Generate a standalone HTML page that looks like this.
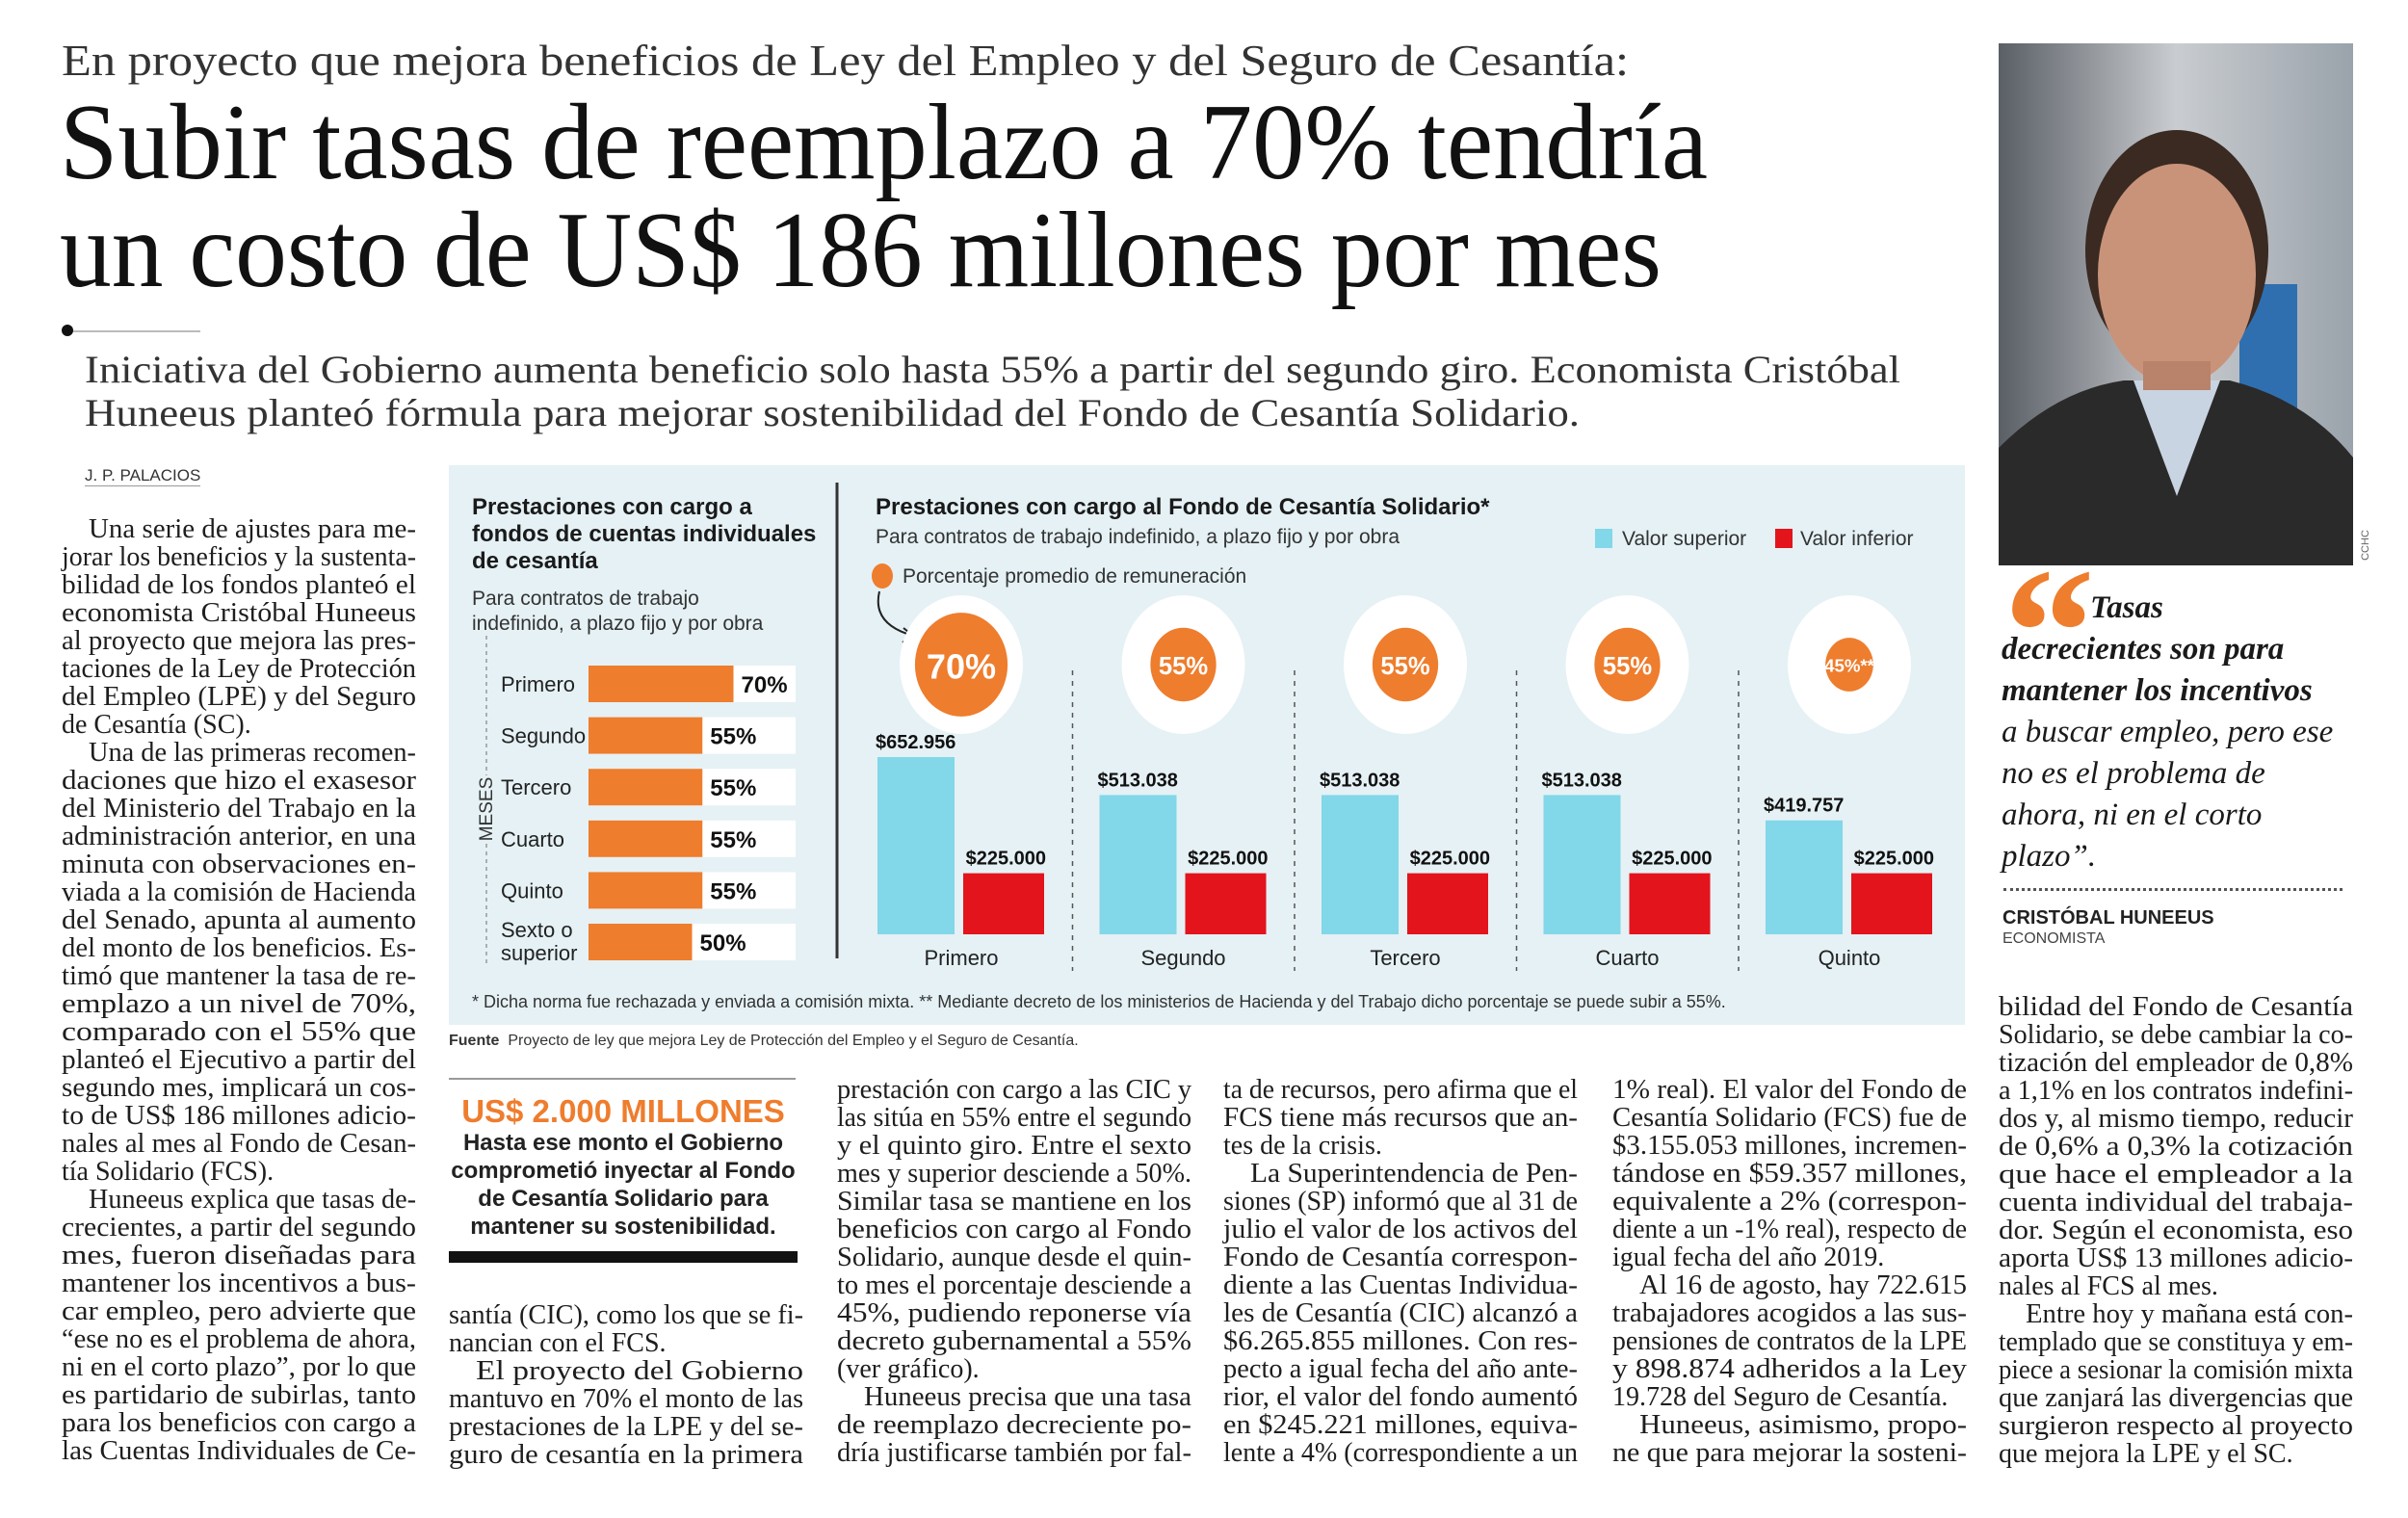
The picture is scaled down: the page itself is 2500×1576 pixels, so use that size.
<!DOCTYPE html>
<html><head><meta charset="utf-8">
<style>
html,body{margin:0;padding:0;background:#fff;}
body{width:2500px;height:1576px;position:relative;overflow:hidden;font-family:"Liberation Serif",serif;color:#1a1a1a;}
.abs{position:absolute;white-space:nowrap;}
.fit{display:inline-block;transform-origin:0 0;}
.col{position:absolute;width:368px;font-family:"Liberation Serif",serif;font-size:28px;line-height:29px;color:#1e1e1e;}
.col div{white-space:nowrap;height:29px;}
.col span{display:inline-block;transform-origin:0 0;}
.ind{padding-left:28px;}
.sans{font-family:"Liberation Sans",sans-serif;}
</style></head>
<body>
<div class="abs" style="left:64px;top:36px;font-size:46px;color:#333;"><span class="fit" data-w="1627">En proyecto que mejora beneficios de Ley del Empleo y del Seguro de Cesantía:</span></div>
<div class="abs" style="left:62px;top:88px;font-size:112px;line-height:120px;color:#111;"><span class="fit" data-w="1711">Subir tasas de reemplazo a 70% tendría</span></div>
<div class="abs" style="left:62px;top:200px;font-size:112px;line-height:120px;color:#111;"><span class="fit" data-w="1663">un costo de US$ 186 millones por mes</span></div>
<div style="position:absolute;left:66px;top:343px;width:142px;height:2px;background:#bbb;"></div>
<div style="position:absolute;left:64px;top:337px;width:12px;height:12px;border-radius:50%;background:#111;"></div>
<div class="abs" style="left:88px;top:360px;font-size:40px;color:#333;"><span class="fit" data-w="1885">Iniciativa del Gobierno aumenta beneficio solo hasta 55% a partir del segundo giro. Economista Cristóbal</span></div>
<div class="abs" style="left:88px;top:405px;font-size:40px;color:#333;"><span class="fit" data-w="1552">Huneeus planteó fórmula para mejorar sostenibilidad del Fondo de Cesantía Solidario.</span></div>
<div class="abs sans" style="left:88px;top:484px;font-size:17px;color:#333;border-bottom:1px solid #999;">J. P. PALACIOS</div>

<svg style="position:absolute;left:2075px;top:45px" width="368" height="542" viewBox="0 0 368 542">
<defs><linearGradient id="bg" x1="0" x2="1"><stop offset="0" stop-color="#5a5f66"/><stop offset="0.5" stop-color="#c9ccd0"/><stop offset="1" stop-color="#9aa3ab"/></linearGradient></defs>
<rect width="368" height="542" fill="url(#bg)"/>
<rect x="250" y="250" width="60" height="150" fill="#2f6fb0"/>
<path d="M0 542 L0 420 Q60 360 130 350 L240 350 Q320 370 368 430 L368 542Z" fill="#2a2a2a"/>
<path d="M140 350 L185 470 L230 350Z" fill="#c9d4e2"/>
<ellipse cx="185" cy="215" rx="95" ry="125" fill="#3a2a22"/>
<ellipse cx="185" cy="240" rx="82" ry="115" fill="#c9937a"/>
<rect x="150" y="330" width="70" height="30" fill="#b9826a"/>
</svg>
<div class="abs sans" style="left:2440px;top:560px;font-size:11px;color:#666;transform:rotate(-90deg);">CCHC</div>

<div style="position:absolute;left:466px;top:483px;width:1574px;height:581px;background:#e5f1f5;"></div>
<svg id="chart" style="position:absolute;left:0;top:0" width="2500" height="1576" font-family="Liberation Sans, sans-serif"></svg>
<div class="abs sans" style="left:466px;top:1072px;font-size:16px;color:#333;"><b>Fuente</b>&nbsp; Proyecto de ley que mejora Ley de Protección del Empleo y el Seguro de Cesantía.</div>

<div class="abs" style="left:2080px;top:562px;font-size:190px;line-height:190px;color:#ee7d2d;font-weight:bold;font-family:'Liberation Serif',serif;">“</div>
<div style="position:absolute;left:2078px;top:610px;font-size:33px;line-height:43px;font-style:italic;color:#1a1a1a;">
<div style="padding-left:92px;font-weight:bold;">Tasas</div>
<div style="font-weight:bold;">decrecientes son para</div>
<div style="font-weight:bold;">mantener los incentivos</div>
<div>a buscar empleo, pero ese</div>
<div>no es el problema de</div>
<div>ahora, ni en el corto</div>
<div>plazo”.</div>
</div>
<div style="position:absolute;left:2080px;top:922px;width:352px;border-top:3px dotted #555;"></div>
<div class="abs sans" style="left:2079px;top:942px;font-size:20px;font-weight:bold;color:#222;">CRISTÓBAL HUNEEUS</div>
<div class="abs sans" style="left:2079px;top:966px;font-size:16px;color:#444;">ECONOMISTA</div>

<div style="position:absolute;left:466px;top:1119px;width:360px;height:2px;background:#999;"></div>
<div class="abs sans" style="left:466px;width:362px;text-align:center;top:1135px;font-size:33px;font-weight:bold;color:#ee7d2d;">US$ 2.000 MILLONES</div>
<div class="sans" style="position:absolute;left:466px;width:362px;text-align:center;top:1172px;font-size:24px;line-height:29px;font-weight:bold;color:#222;">Hasta ese monto el Gobierno<br>comprometió inyectar al Fondo<br>de Cesantía Solidario para<br>mantener su sostenibilidad.</div>
<div style="position:absolute;left:466px;top:1299px;width:362px;height:12px;background:#111;"></div>

<div class="col" style="left:64px;top:535px;">
<div class="ind"><span class="j">Una serie de ajustes para me-</span></div>
<div><span class="j">jorar los beneficios y la sustenta-</span></div>
<div><span class="j">bilidad de los fondos planteó el</span></div>
<div><span class="j">economista Cristóbal Huneeus</span></div>
<div><span class="j">al proyecto que mejora las pres-</span></div>
<div><span class="j">taciones de la Ley de Protección</span></div>
<div><span class="j">del Empleo (LPE) y del Seguro</span></div>
<div><span>de Cesantía (SC).</span></div>
<div class="ind"><span class="j">Una de las primeras recomen-</span></div>
<div><span class="j">daciones que hizo el exasesor</span></div>
<div><span class="j">del Ministerio del Trabajo en la</span></div>
<div><span class="j">administración anterior, en una</span></div>
<div><span class="j">minuta con observaciones en-</span></div>
<div><span class="j">viada a la comisión de Hacienda</span></div>
<div><span class="j">del Senado, apunta al aumento</span></div>
<div><span class="j">del monto de los beneficios. Es-</span></div>
<div><span class="j">timó que mantener la tasa de re-</span></div>
<div><span class="j">emplazo a un nivel de 70%,</span></div>
<div><span class="j">comparado con el 55% que</span></div>
<div><span class="j">planteó el Ejecutivo a partir del</span></div>
<div><span class="j">segundo mes, implicará un cos-</span></div>
<div><span class="j">to de US$ 186 millones adicio-</span></div>
<div><span class="j">nales al mes al Fondo de Cesan-</span></div>
<div><span>tía Solidario (FCS).</span></div>
<div class="ind"><span class="j">Huneeus explica que tasas de-</span></div>
<div><span class="j">crecientes, a partir del segundo</span></div>
<div><span class="j">mes, fueron diseñadas para</span></div>
<div><span class="j">mantener los incentivos a bus-</span></div>
<div><span class="j">car empleo, pero advierte que</span></div>
<div><span class="j">“ese no es el problema de ahora,</span></div>
<div><span class="j">ni en el corto plazo”, por lo que</span></div>
<div><span class="j">es partidario de subirlas, tanto</span></div>
<div><span class="j">para los beneficios con cargo a</span></div>
<div><span class="j">las Cuentas Individuales de Ce-</span></div>
</div>

<div class="col" style="left:466px;top:1351px;">
<div><span class="j">santía (CIC), como los que se fi-</span></div>
<div><span>nancian con el FCS.</span></div>
<div class="ind"><span class="j">El proyecto del Gobierno</span></div>
<div><span class="j">mantuvo en 70% el monto de las</span></div>
<div><span class="j">prestaciones de la LPE y del se-</span></div>
<div><span class="j">guro de cesantía en la primera</span></div>
</div>

<div class="col" style="left:869px;top:1117px;">
<div><span class="j">prestación con cargo a las CIC y</span></div>
<div><span class="j">las sitúa en 55% entre el segundo</span></div>
<div><span class="j">y el quinto giro. Entre el sexto</span></div>
<div><span class="j">mes y superior desciende a 50%.</span></div>
<div><span class="j">Similar tasa se mantiene en los</span></div>
<div><span class="j">beneficios con cargo al Fondo</span></div>
<div><span class="j">Solidario, aunque desde el quin-</span></div>
<div><span class="j">to mes el porcentaje desciende a</span></div>
<div><span class="j">45%, pudiendo reponerse vía</span></div>
<div><span class="j">decreto gubernamental a 55%</span></div>
<div><span>(ver gráfico).</span></div>
<div class="ind"><span class="j">Huneeus precisa que una tasa</span></div>
<div><span class="j">de reemplazo decreciente po-</span></div>
<div><span class="j">dría justificarse también por fal-</span></div>
</div>

<div class="col" style="left:1270px;top:1117px;">
<div><span class="j">ta de recursos, pero afirma que el</span></div>
<div><span class="j">FCS tiene más recursos que an-</span></div>
<div><span>tes de la crisis.</span></div>
<div class="ind"><span class="j">La Superintendencia de Pen-</span></div>
<div><span class="j">siones (SP) informó que al 31 de</span></div>
<div><span class="j">julio el valor de los activos del</span></div>
<div><span class="j">Fondo de Cesantía correspon-</span></div>
<div><span class="j">diente a las Cuentas Individua-</span></div>
<div><span class="j">les de Cesantía (CIC) alcanzó a</span></div>
<div><span class="j">$6.265.855 millones. Con res-</span></div>
<div><span class="j">pecto a igual fecha del año ante-</span></div>
<div><span class="j">rior, el valor del fondo aumentó</span></div>
<div><span class="j">en $245.221 millones, equiva-</span></div>
<div><span class="j">lente a 4% (correspondiente a un</span></div>
</div>

<div class="col" style="left:1674px;top:1117px;">
<div><span class="j">1% real). El valor del Fondo de</span></div>
<div><span class="j">Cesantía Solidario (FCS) fue de</span></div>
<div><span class="j">$3.155.053 millones, incremen-</span></div>
<div><span class="j">tándose en $59.357 millones,</span></div>
<div><span class="j">equivalente a 2% (correspon-</span></div>
<div><span class="j">diente a un -1% real), respecto de</span></div>
<div><span>igual fecha del año 2019.</span></div>
<div class="ind"><span class="j">Al 16 de agosto, hay 722.615</span></div>
<div><span class="j">trabajadores acogidos a las sus-</span></div>
<div><span class="j">pensiones de contratos de la LPE</span></div>
<div><span class="j">y 898.874 adheridos a la Ley</span></div>
<div><span>19.728 del Seguro de Cesantía.</span></div>
<div class="ind"><span class="j">Huneeus, asimismo, propo-</span></div>
<div><span class="j">ne que para mejorar la sosteni-</span></div>
</div>

<div class="col" style="left:2075px;top:1031px;">
<div><span class="j">bilidad del Fondo de Cesantía</span></div>
<div><span class="j">Solidario, se debe cambiar la co-</span></div>
<div><span class="j">tización del empleador de 0,8%</span></div>
<div><span class="j">a 1,1% en los contratos indefini-</span></div>
<div><span class="j">dos y, al mismo tiempo, reducir</span></div>
<div><span class="j">de 0,6% a 0,3% la cotización</span></div>
<div><span class="j">que hace el empleador a la</span></div>
<div><span class="j">cuenta individual del trabaja-</span></div>
<div><span class="j">dor. Según el economista, eso</span></div>
<div><span class="j">aporta US$ 13 millones adicio-</span></div>
<div><span>nales al FCS al mes.</span></div>
<div class="ind"><span class="j">Entre hoy y mañana está con-</span></div>
<div><span class="j">templado que se constituya y em-</span></div>
<div><span class="j">piece a sesionar la comisión mixta</span></div>
<div><span class="j">que zanjará las divergencias que</span></div>
<div><span class="j">surgieron respecto al proyecto</span></div>
<div><span>que mejora la LPE y el SC.</span></div>
</div>

<script>
const leftCats = ['Primero','Segundo','Tercero','Cuarto','Quinto','Sexto o|superior'];
const leftVals = [70,55,55,55,55,50];
const rightCats = ['Primero','Segundo','Tercero','Cuarto','Quinto'];
const upperVals = [652956,513038,513038,513038,419757];
const lowerVals = [225000,225000,225000,225000,225000];
const pctVals = [70,55,55,55,45];
const pctLabels = ['70%','55%','55%','55%','45%**'];
const upperLabels = ['$652.956','$513.038','$513.038','$513.038','$419.757'];
const lowerLabels = ['$225.000','$225.000','$225.000','$225.000','$225.000'];

const NS='http://www.w3.org/2000/svg';
const svg=document.getElementById('chart');
function mk(tag,attrs,txt){const e=document.createElementNS(NS,tag);for(const k in attrs)e.setAttribute(k,attrs[k]);if(txt!==undefined)e.textContent=txt;svg.appendChild(e);return e;}
const ORANGE='#ee7d2d',CYAN='#82d7e8',RED='#e3141c';
const lx=v=>611+v*2.15;
const ly=i=>691+i*53.6;
const gx=i=>998+i*230.5;
const base=970;
const vy=v=>base-v*184/652956;
const rr=p=>p*0.93-17;

let t;
t=mk('text',{x:490,y:534,'font-size':24,'font-weight':'bold',fill:'#1a1a1a'},'Prestaciones con cargo a');

t=mk('text',{x:490,y:562,'font-size':24,'font-weight':'bold',fill:'#1a1a1a'},'fondos de cuentas individuales');

t=mk('text',{x:490,y:590,'font-size':24,'font-weight':'bold',fill:'#1a1a1a'},'de cesantía');

t=mk('text',{x:490,y:628,'font-size':21,fill:'#333'},'Para contratos de trabajo');

t=mk('text',{x:490,y:654,'font-size':21,fill:'#333'},'indefinido, a plazo fijo y por obra');

t=mk('line',{x1:505,y1:660,x2:505,y2:1000,stroke:'#999','stroke-dasharray':'4 4','stroke-width':1.5});

t=mk('rect',{x:494,y:805,width:22,height:70,fill:'#e5f1f5'});

t=mk('text',{x:0,y:0,'font-size':19,fill:'#333',transform:'translate(506,840) rotate(-90)','text-anchor':'middle','dominant-baseline':'middle'},'MESES');


leftVals.forEach((v,i)=>{
  const y=ly(i);
  let r=mk('rect',{x:611,y:y,width:215,height:38,fill:'#fff'});
  
  r=mk('rect',{x:611,y:y,width:lx(v)-611,height:38,fill:ORANGE});
  
  const lab=leftCats[i].split('|');
  lab.forEach((s,k)=>{
    const tt=mk('text',{x:520,y:lab.length>1?y+14+k*24:y+27,'font-size':22,fill:'#222'},s);
    
  });
  const pv=mk('text',{x:lx(v)+8,y:y+28,'font-size':24,'font-weight':'bold',fill:'#111'},v+'%');
  
});

t=mk('line',{x1:869,y1:501,x2:869,y2:995,stroke:'#333','stroke-width':3});

t=mk('text',{x:909,y:534,'font-size':24,'font-weight':'bold',fill:'#1a1a1a'},'Prestaciones con cargo al Fondo de Cesantía Solidario*');

t=mk('text',{x:909,y:564,'font-size':21,fill:'#333'},'Para contratos de trabajo indefinido, a plazo fijo y por obra');

t=mk('rect',{x:1656,y:549,width:18,height:20,fill:CYAN});

t=mk('text',{x:1684,y:566,'font-size':21,fill:'#333'},'Valor superior');

t=mk('rect',{x:1843,y:549,width:18,height:20,fill:RED});

t=mk('text',{x:1869,y:566,'font-size':21,fill:'#333'},'Valor inferior');

t=mk('ellipse',{cx:916,cy:598,rx:11,ry:13,fill:ORANGE});

t=mk('text',{x:937,y:605,'font-size':21,fill:'#333'},'Porcentaje promedio de remuneración');

t=mk('path',{d:'M913 614 Q905 648 948 660',fill:'none',stroke:'#222','stroke-width':2});

t=mk('path',{d:'M948 660 L938 652 M948 660 L937 667',fill:'none',stroke:'#222','stroke-width':2});


rightCats.forEach((c,i)=>{
  const cx=gx(i);
  if(i>0){const d=mk('line',{x1:cx-115,y1:696,x2:cx-115,y2:1008,stroke:'#555','stroke-dasharray':'5 6','stroke-width':1.5});
    }
  let e=mk('ellipse',{cx:cx,cy:690,rx:64,ry:72,fill:'#fff'});
  
  const r=rr(pctVals[i]);
  e=mk('ellipse',{cx:cx,cy:690,rx:r,ry:r*1.12,fill:ORANGE});
  
  e=mk('text',{x:cx,y:690+r*0.3,'font-size':Math.max(17,r*0.75),'font-weight':'bold',fill:'#fff','text-anchor':'middle'},pctLabels[i]);
  
  e=mk('rect',{x:cx-87,y:vy(upperVals[i]),width:80,height:base-vy(upperVals[i]),fill:CYAN});
  
  e=mk('rect',{x:cx+2,y:vy(lowerVals[i]),width:84,height:base-vy(lowerVals[i]),fill:RED});
  
  e=mk('text',{x:cx-89,y:vy(upperVals[i])-9,'font-size':20,'font-weight':'bold',fill:'#111'},upperLabels[i]);
  
  e=mk('text',{x:cx+88,y:vy(lowerVals[i])-9,'font-size':20,'font-weight':'bold',fill:'#111','text-anchor':'end'},lowerLabels[i]);
  
  e=mk('text',{x:cx,y:1002,'font-size':22,fill:'#222','text-anchor':'middle'},c);
  
});
t=mk('text',{x:490,y:1046,'font-size':18,fill:'#333'},'* Dicha norma fue rechazada y enviada a comisión mixta. ** Mediante decreto de los ministerios de Hacienda y del Trabajo dicho porcentaje se puede subir a 55%.');


document.querySelectorAll('.fit').forEach(el=>{
  const w=+el.dataset.w, a=el.getBoundingClientRect().width;
  if(a>0) el.style.transform='scaleX('+(w/a)+')';
});
document.querySelectorAll('.col').forEach(col=>{
  col.querySelectorAll('div').forEach(d=>{
    const s=d.querySelector('span');
    const avail=368-(d.classList.contains('ind')?28:0);
    const a=s.getBoundingClientRect().width;
    if(s.classList.contains('j')) s.style.transform='scaleX('+(avail/a)+')';
    else if(a>avail) s.style.transform='scaleX('+(avail/a)+')';
  });
});
</script>
</body></html>
